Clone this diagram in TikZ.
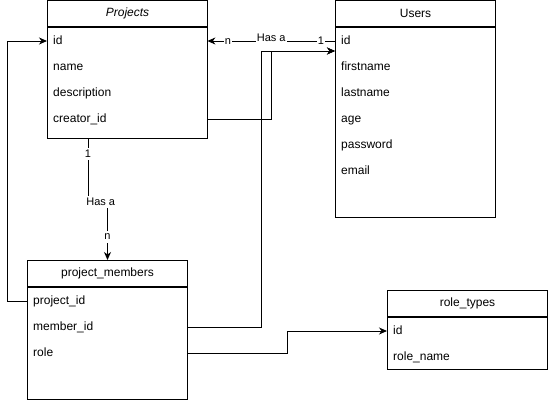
\documentclass[tikz,border=0pt]{standalone}
\usepackage{fontspec}
\setmainfont{Liberation Sans}
\usetikzlibrary{arrows.meta, positioning, calc}

\begin{document}
\begin{tikzpicture}[x=1pt, y=-1pt,
    every node/.style={font=\fontsize{12}{14}\selectfont},
    head/.style={draw, line width=1pt, minimum width=160pt, minimum height=26pt, anchor=north west, inner sep=0pt},
    body/.style={draw, line width=1pt, minimum width=160pt, below=0pt of #1, inner sep=0pt},
    field/.style={anchor=west, text width=148pt, inner xsep=6pt, inner ysep=0pt, align=left, text height=9pt, text depth=3pt},
    link/.style={line width=1pt},
    fk/.style={link, -{Stealth[length=8pt, width=7pt, inset=2.5pt]}},
    card/.style={fill=white, inner sep=1pt, text height=8pt, text depth=2pt, font=\fontsize{11}{12}\selectfont}]
    \useasboundingbox (0,0) rectangle (548,399);

    % tables
    \node[head] (prj) at (47,0) {\itshape Projects};
    \node[body=prj, minimum height=111pt] (prj-body) {};
    \foreach \n/\t [count=\i from 0] in {id/id, name/name, desc/description, creator/creator\_id}
        \node[field] (prj-\n) at ($(prj.south west)+(0,14+26*\i)$) {\t};

    \node[head] (usr) at (335,0) {Users};
    \node[body=usr, minimum height=190pt] (usr-body) {};
    \foreach \n/\t [count=\i from 0] in {id/id, first/firstname, last/lastname, age/age, pw/password, mail/email}
        \node[field] (usr-\n) at ($(usr.south west)+(0,14+26*\i)$) {\t};

    \node[head] (pm) at (27,260) {project\_members};
    \node[body=pm, minimum height=112pt] (pm-body) {};
    \foreach \n/\t [count=\i from 0] in {pid/project\_id, mid/member\_id, role/role}
        \node[field] (pm-\n) at ($(pm.south west)+(0,14+26*\i)$) {\t};

    \node[head] (rt) at (387,290) {role\_types};
    \node[body=rt, minimum height=52pt] (rt-body) {};
    \foreach \n/\t [count=\i from 0] in {id/id, name/role\_name}
        \node[field] (rt-\n) at ($(rt.south west)+(0,14+26*\i)$) {\t};

    \coordinate (usr-in) at ($(usr-id.west)+(0,10)$);
    \coordinate (prj-foot) at ($(prj-body.south west)+(41,0)$);

    % relations
    \draw[fk] (usr-id.west) -- node[card, pos=0.11]{1} node[card, pos=0.5, yshift=3pt]{Has a} node[card, pos=0.84]{n} (prj-id.east);
    \draw[fk] (prj-foot) -- node[card, pos=0.24]{1} ++(0,63) coordinate (jog)
        -- node[card, xshift=3pt]{Has a} (jog -| pm.north) -- node[card, pos=0.6]{n} (pm.north);
    \draw[fk] (pm-pid.west) -- ++(-20,0) |- (prj-id.west);
    \draw[fk] (prj-creator.east) -- ++(64,0) |- (usr-in);
    \draw[fk] (pm-mid.east) -- ++(74,0) |- (usr-in);
    \draw[fk] (pm-role.east) -- ++(100,0) |- (rt-id.west);
\end{tikzpicture}
\end{document}
